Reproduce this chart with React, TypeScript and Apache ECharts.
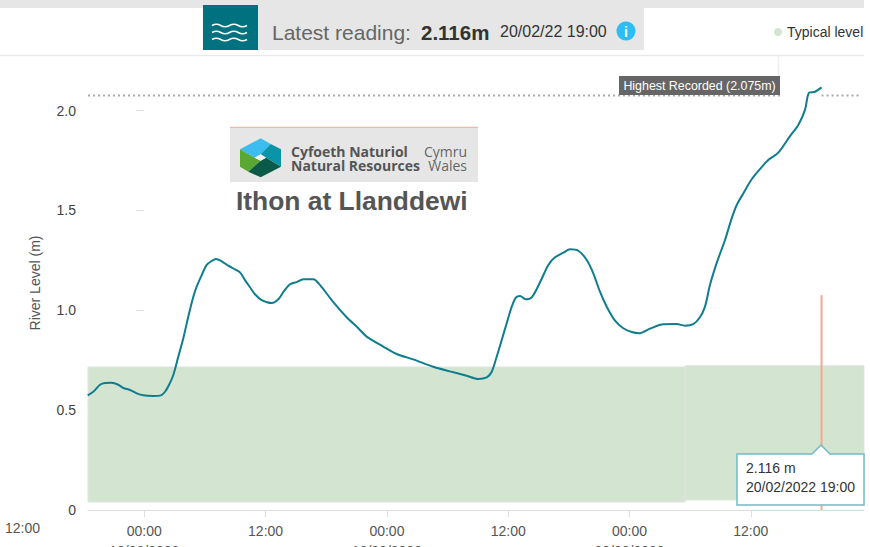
import React, { useEffect, useRef } from "react";
import * as echarts from "echarts";

const FONT = "'Liberation Sans', Arial, sans-serif";
const LOGO_FONT = "'Open Sans', sans-serif";
const BASE = Date.UTC(2022, 1, 18);
const HOUR = 3600000;

// hours since 18/02/2022 00:00
const readingHours = [
  -5.6, -5.05, -4.38, -3.89, -3.23, -2.57, -2.08, -1.41, -0.75, -0.1, 0.89, 1.65, 2.05, 2.44, 2.87, 3.36, 3.86, 4.35,
  4.85, 5.18, 5.68, 6.17, 6.67, 7.09, 7.66, 8.31, 8.97, 9.47, 9.96, 10.46, 10.95, 11.61, 12.6, 13.26, 13.85, 14.42,
  15.08, 15.73, 16.72, 17.39, 18.54, 20.02, 21.17, 22.0, 23.64, 24.97, 26.61, 28.59, 30.24, 31.89, 33.04, 33.88, 34.37,
  34.86, 35.36, 35.85, 36.35, 36.77, 37.17, 37.71, 38.33, 39.15, 39.97, 40.63, 41.45, 42.12, 42.94, 43.77, 44.42, 45.08,
  45.75, 46.57, 47.39, 48.22, 48.94, 50.03, 51.35, 52.67, 53.49, 54.31, 54.97, 55.47, 55.96, 56.63, 57.45, 58.11, 58.61,
  59.26, 60.09, 60.91, 61.73, 62.72, 63.88, 64.7, 65.36, 65.76, 66.35, 67,
];
const readingLevels = [
  0.574, 0.592, 0.627, 0.636, 0.637, 0.627, 0.611, 0.601, 0.584, 0.574, 0.571, 0.574, 0.592, 0.626, 0.676, 0.767, 0.86,
  0.968, 1.068, 1.118, 1.176, 1.227, 1.247, 1.257, 1.245, 1.223, 1.205, 1.19, 1.151, 1.115, 1.08, 1.051, 1.036, 1.055,
  1.098, 1.13, 1.141, 1.155, 1.155, 1.126, 1.051, 0.965, 0.91, 0.868, 0.818, 0.781, 0.754, 0.717, 0.694, 0.672, 0.656,
  0.664, 0.692, 0.767, 0.851, 0.935, 1.018, 1.065, 1.072, 1.055, 1.065, 1.14, 1.227, 1.265, 1.288, 1.305, 1.298, 1.252,
  1.185, 1.093, 1.018, 0.948, 0.91, 0.891, 0.885, 0.908, 0.93, 0.931, 0.923, 0.931, 0.965, 1.018, 1.126, 1.237, 1.352,
  1.46, 1.527, 1.585, 1.656, 1.707, 1.752, 1.789, 1.872, 1.927, 2.003, 2.089, 2.094, 2.116,
];

const axisStartHour = -5.57;
const axisEndHour = 71.2;
const xTickHours = [0, 12, 24, 36, 48, 60];

// typical-level band: [fromHour, toHour, low, high]
const typicalFrom = [-5.57, 53.5];
const typicalTo = [53.5, 71.2];
const typicalLow = [0.04, 0.05];
const typicalHigh = [0.716, 0.722];

const highestRecorded = 2.075;
const highestHours = [-5.57, 62.9, 63, 66.9, 67, 70.8];
const highestValues = [highestRecorded, highestRecorded, null, null, highestRecorded, highestRecorded];

const latestHour = 67;
const pinLevels = [1.076, 0];

const pad = (n: number) => String(n).padStart(2, "0");

const logoPt = (pts: number[][]) => pts.map(([x, y]) => [220 + x / 3, 120 + y / 3]);

function txt(text: string, x: number, y: number, size: number, fill: string, extra: any = {}) {
  return {
    type: "text",
    x,
    y,
    z: 20,
    style: { text, fontFamily: FONT, fontSize: size, fill, verticalAlign: "middle", ...extra },
  };
}
function box(x: number, y: number, width: number, height: number, fill: string, z = 15) {
  return { type: "rect", z, shape: { x, y, width, height }, style: { fill } };
}
function poly(points: number[][], fill: string, z = 20) {
  return { type: "polygon", z, shape: { points: logoPt(points) }, style: { fill } };
}
function hline(x1: number, y1: number, x2: number, y2: number, stroke: string, lineWidth = 1) {
  return { type: "line", z: 14, shape: { x1, y1, x2, y2 }, style: { stroke, lineWidth } };
}

export default function App() {
  const ref = useRef<HTMLDivElement>(null);
  useEffect(() => {
    const chart = echarts.init(ref.current!, undefined, { renderer: "svg" });
    const waveD = "M0 0 q4.4 -2.6 8.75 0 t8.75 0 t8.75 0 t8.75 0";
    echarts.graphic.registerShape("wave", echarts.graphic.extendPath(waveD, {}) as any);

    const wave = (y: number) => ({
      type: "wave",
      x: 212,
      y,
      z: 21,
      style: { fill: "none", stroke: "#ffffff", lineWidth: 1.6 },
    });

    chart.setOption({
      animation: false,
      backgroundColor: "#ffffff",
      textStyle: { fontFamily: FONT },
      title: {
        text: "Ithon at Llanddewi",
        left: 236,
        top: 188,
        padding: 0,
        textStyle: { fontFamily: FONT, fontSize: 26.4, fontWeight: "bold", color: "#555555" },
      },
      grid: { left: 88, right: 6, top: 56, bottom: 37, outerBoundsMode: "none" },
      xAxis: {
        type: "value",
        min: axisStartHour,
        max: axisEndHour,
        splitLine: { show: false },
        axisLine: { onZero: false, lineStyle: { color: "#dddddd" } },
        axisTick: { length: 7, lineStyle: { color: "#dddddd" }, customValues: xTickHours },
        axisLabel: {
          customValues: xTickHours,
          margin: 11,
          fontSize: 14,
          lineHeight: 20,
          color: "#555555",
          fontFamily: FONT,
          hideOverlap: false,
          formatter: (h: number) => {
            const d = new Date(BASE + h * HOUR);
            const time = `${pad(d.getUTCHours())}:${pad(d.getUTCMinutes())}`;
            if (d.getUTCHours() === 0) {
              return `${time}\n${pad(d.getUTCDate())}/${pad(d.getUTCMonth() + 1)}/${d.getUTCFullYear()}`;
            }
            return time;
          },
        },
      },
      yAxis: {
        type: "value",
        min: 0,
        max: 2.273,
        interval: 0.5,
        name: "River Level (m)",
        nameLocation: "middle",
        nameGap: 46,
        nameTextStyle: { fontSize: 14, color: "#555555", fontFamily: FONT },
        splitLine: { show: false },
        axisLine: { show: false },
        axisTick: { show: true, length: 8, lineStyle: { color: "#dddddd" } },
        axisLabel: {
          showMaxLabel: false,
          margin: 12,
          fontSize: 14,
          color: "#444444",
          fontFamily: FONT,
          formatter: (v: number) => (v === 0 ? "0" : v.toFixed(1)),
        },
      },
      series: [
        {
          name: "Typical level",
          type: "line",
          z: 1,
          symbol: "none",
          silent: true,
          data: [],
          markArea: {
            z: 1,
            silent: true,
            itemStyle: { color: "#d3e4d1", opacity: 1, borderWidth: 1, borderColor: "#dfe5de" },
            data: typicalFrom.map((from, i) => [
              { xAxis: from, yAxis: typicalLow[i] },
              { xAxis: typicalTo[i], yAxis: typicalHigh[i] },
            ]),
          },
        },
        {
          name: "Highest Recorded",
          type: "line",
          z: 4,
          symbol: "none",
          connectNulls: false,
          lineStyle: { color: "#a9a9a9", width: 2, type: [2, 3] },
          data: highestHours.map((h, i) => [h, highestValues[i]]),
        },
        {
          name: "pin",
          type: "line",
          z: 4,
          symbol: "none",
          lineStyle: { color: "#f5a88e", width: 2 },
          data: pinLevels.map((v) => [latestHour, v]),
        },
        {
          name: "River level",
          type: "line",
          z: 5,
          symbol: "none",
          smooth: 0.3,
          lineStyle: { color: "#0f7d8e", width: 2 },
          data: readingHours.map((h, i) => [h, readingLevels[i]]),
        },
      ],
      graphic: [
        // page furniture
        box(0, 0, 864, 8, "#e6e6e6", 12),
        hline(0, 55.5, 864, 55.5, "#e9e9e9", 1.5),
        hline(778.5, 56, 778.5, 76, "#eeeeee", 1.5),
        // latest reading header
        box(203, 8, 441, 42, "#e6e6e6"),
        box(203, 5, 55, 45, "#00717f", 16),
        wave(25.5),
        wave(32.5),
        wave(39.5),
        txt("Latest reading:", 272, 32, 21, "#666666"),
        txt("2.116m", 421, 32, 20.5, "#333333", { fontWeight: "bold" }),
        txt("20/02/22 19:00", 500, 31.5, 16, "#333333"),
        { type: "circle", z: 20, shape: { cx: 626, cy: 31, r: 9.5 }, style: { fill: "#2cbdf5" } },
        txt("i", 626, 31.5, 14, "#ffffff", { fontWeight: "bold", align: "center" }),
        // legend
        { type: "circle", z: 20, shape: { cx: 778, cy: 32, r: 4 }, style: { fill: "#d3e4d1" } },
        txt("Typical level", 787, 32, 14, "#333333"),
        // NRW logo
        box(230, 128, 248, 54, "#e6e6e6"),
        hline(230, 127.5, 478, 127.5, "#f0b9a8", 1.5),
        poly([[60, 88], [122, 55], [152, 72], [122, 103], [104, 113]], "#3dbcf0"),
        poly([[152, 72], [183, 88], [183, 140], [153, 122], [138, 113], [122, 103]], "#0a94a8"),
        poly([[60, 88], [104, 113], [122, 122], [85, 155], [60, 140]], "#5aa832"),
        poly([[85, 155], [122, 122], [138, 113], [153, 122], [183, 140], [122, 172]], "#0b5a47"),
        poly([[104, 113], [122, 103], [138, 113], [122, 122]], "#f1f1f1", 21),
        txt("Cyfoeth Naturiol\nNatural Resources", 291, 158.5, 14, "#555555", {
          fontWeight: "bold",
          fontFamily: LOGO_FONT,
          lineHeight: 13.5,
        }),
        txt("Cymru\nWales", 467, 158.5, 14, "#666666", { fontFamily: LOGO_FONT, align: "right", lineHeight: 13.5 }),
        // highest recorded label
        box(619, 76, 161, 19, "#666666"),
        txt("Highest Recorded (2.075m)", 699.5, 85.5, 12.4, "#ffffff", { align: "center" }),
        // out-of-range tick label
        txt("12:00", 22.5, 528, 14, "#555555", { align: "center" }),
        // latest tooltip
        {
          type: "polygon",
          z: 18,
          shape: {
            points: [
              [737, 454],
              [812, 454],
              [821, 445],
              [830, 454],
              [864, 454],
              [864, 505],
              [737, 505],
            ],
          },
          style: { fill: "#ffffff", stroke: "#74bac3", lineWidth: 1.5 },
        },
        txt("2.116 m", 746, 468, 14, "#333333"),
        txt("20/02/2022 19:00", 746, 487, 14, "#333333"),
      ],
    });
    return () => chart.dispose();
  }, []);
  return (
    <div
      ref={ref}
      style={{ position: "absolute", left: 0, top: 0, width: 870, height: 547, overflow: "hidden", background: "#fff" }}
    />
  );
}
